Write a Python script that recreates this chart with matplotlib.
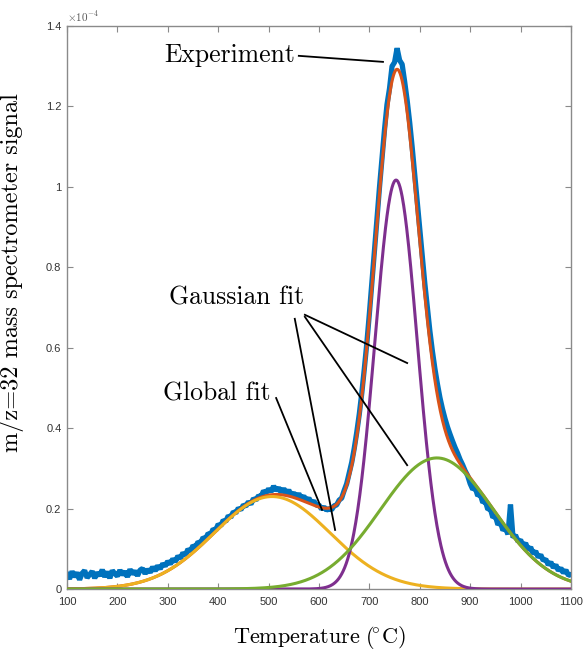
import numpy as np
import matplotlib
matplotlib.use("Agg")
import matplotlib.pyplot as plt
from matplotlib.ticker import FuncFormatter

# Measured m/z=32 signal (units of 1e-4), sampled every 5 degC from 100 to 1100
temp_start, temp_step = 100, 5
signal_exp = [
    # 100 - 295
    0.037, 0.025, 0.044, 0.030, 0.041, 0.023, 0.039, 0.046, 0.028, 0.036,
    0.044, 0.027, 0.041, 0.033, 0.048, 0.030, 0.043, 0.027, 0.046, 0.038,
    0.032, 0.047, 0.035, 0.044, 0.030, 0.049, 0.037, 0.045, 0.033, 0.047,
    0.051, 0.038, 0.049, 0.041, 0.055, 0.045, 0.058, 0.050, 0.063, 0.057,
    # 300 - 495
    0.069, 0.062, 0.075, 0.068, 0.082, 0.076, 0.090, 0.084, 0.099, 0.094,
    0.108, 0.104, 0.117, 0.114, 0.128, 0.125, 0.138, 0.136, 0.149, 0.146,
    0.161, 0.157, 0.171, 0.168, 0.182, 0.178, 0.192, 0.189, 0.201, 0.197,
    0.209, 0.206, 0.217, 0.211, 0.225, 0.221, 0.232, 0.229, 0.244, 0.239,
    # 500 - 695
    0.249, 0.242, 0.256, 0.245, 0.252, 0.240, 0.250, 0.237, 0.246, 0.234,
    0.239, 0.229, 0.237, 0.226, 0.231, 0.220, 0.226, 0.214, 0.219, 0.208,
    0.209, 0.199, 0.204, 0.196, 0.200, 0.197, 0.207, 0.209, 0.221, 0.226,
    0.245, 0.262, 0.288, 0.315, 0.350, 0.390, 0.435, 0.488, 0.548, 0.612,
    # 700 - 895
    0.685, 0.762, 0.840, 0.920, 0.998, 1.070, 1.142, 1.205, 1.245, 1.300,
    1.310, 1.345, 1.315, 1.305, 1.262, 1.215, 1.160, 1.098, 1.030, 0.962,
    0.892, 0.825, 0.760, 0.700, 0.642, 0.592, 0.548, 0.510, 0.476, 0.448,
    0.424, 0.403, 0.385, 0.368, 0.352, 0.338, 0.322, 0.309, 0.294, 0.282,
    # 900 - 995
    0.262, 0.248, 0.252, 0.232, 0.236, 0.215, 0.219, 0.198, 0.200, 0.178,
    0.182, 0.160, 0.166, 0.146, 0.152, 0.136, 0.210, 0.128, 0.134, 0.118,
    # 1000 - 1100
    0.122, 0.108, 0.114, 0.098, 0.104, 0.088, 0.094, 0.079, 0.085, 0.071,
    0.074, 0.060, 0.067, 0.053, 0.060, 0.046, 0.052, 0.040, 0.047, 0.034,
    0.036,
]

# Fitted Gaussian components: amplitude (1e-4), centre (degC), sigma (degC)
peak_amp = [0.23, 1.017, 0.326]
peak_center = [507.0, 753.0, 834.0]
peak_sigma = [115.0, 42.0, 112.0]

x_ticks = [100, 200, 300, 400, 500, 600, 700, 800, 900, 1000, 1100]
y_ticks = [0, 0.2, 0.4, 0.6, 0.8, 1.0, 1.2, 1.4]

c_exp, c_glob, c_g1, c_g2, c_g3 = "#0072BD", "#D95319", "#EDB120", "#7E2F8E", "#77AC30"

temp_exp = temp_start + temp_step * np.arange(len(signal_exp))
t = np.linspace(100, 1100, 1001)


def gauss(x, a, m, s):
    return a * np.exp(-(x - m) ** 2 / (2 * s ** 2))


comps = [gauss(t, a, m, s) for a, m, s in zip(peak_amp, peak_center, peak_sigma)]
global_fit = comps[0] + comps[1] + comps[2]

plt.rcParams["mathtext.fontset"] = "cm"
serif = {"family": "cmr10"}

fig = plt.figure(figsize=(5.85, 6.52), dpi=100)
ax = fig.add_axes([0.1145, 0.0966, 0.8615, 0.8634])

ax.plot(temp_exp, signal_exp, color=c_exp, lw=3.8, solid_joinstyle="bevel", zorder=2)
ax.plot(t, global_fit, color=c_glob, lw=2.2, zorder=3)
ax.plot(t, comps[0], color=c_g1, lw=2.2, zorder=4)
ax.plot(t, comps[1], color=c_g2, lw=2.2, zorder=5)
ax.plot(t, comps[2], color=c_g3, lw=2.2, zorder=6)

ax.set_xlim(100, 1100)
ax.set_ylim(0, 1.4)
ax.set_xticks(x_ticks)
ax.set_yticks(y_ticks)
ax.yaxis.set_major_formatter(FuncFormatter(lambda v, p: f"{v:g}"))

axis_gray = "#8a8a8a"
for sp in ax.spines.values():
    sp.set_color(axis_gray)
    sp.set_linewidth(1.0)
ax.tick_params(direction="in", length=4, width=0.8, color=axis_gray,
               top=True, right=True, labelsize=8, labelcolor="#333333")
ax.tick_params(axis="x", pad=6)
ax.tick_params(axis="y", pad=4)
for lab in ax.get_xticklabels() + ax.get_yticklabels():
    lab.set_family("Liberation Sans")

ax.text(0.0, 1.004, r"$\times10^{-4}$", transform=ax.transAxes, fontsize=8,
        color="#555555", ha="left", va="bottom", family="Liberation Sans")

ax.set_xlabel(r"$\mathrm{Temperature\ (\!^{\circ}C)}$", fontsize=16, labelpad=12)
ax.set_ylabel("m/z=32 mass spectrometer signal", fontdict=serif, fontsize=17.5)
ax.yaxis.set_label_coords(-0.085, 0.563)

# Annotations
ann_kw = dict(fontsize=18.5, ha="center", va="center", **serif)
ax.text(423, 1.328, "Experiment", **ann_kw)
ax.text(437, 0.724, "Gaussian fit", **ann_kw)
ax.text(398, 0.485, "Global fit", **ann_kw)

leader_lines = [
    ((560, 1.326), (727, 1.311)),
    ((552, 0.672), (632, 0.147)),
    ((572, 0.682), (775, 0.562)),
    ((572, 0.677), (775, 0.308)),
    ((515, 0.475), (606, 0.197)),
]
for (x0, y0), (x1, y1) in leader_lines:
    ax.plot([x0, x1], [y0, y1], color="black", lw=1.3, zorder=8)

fig.savefig("out.png", dpi=100)
